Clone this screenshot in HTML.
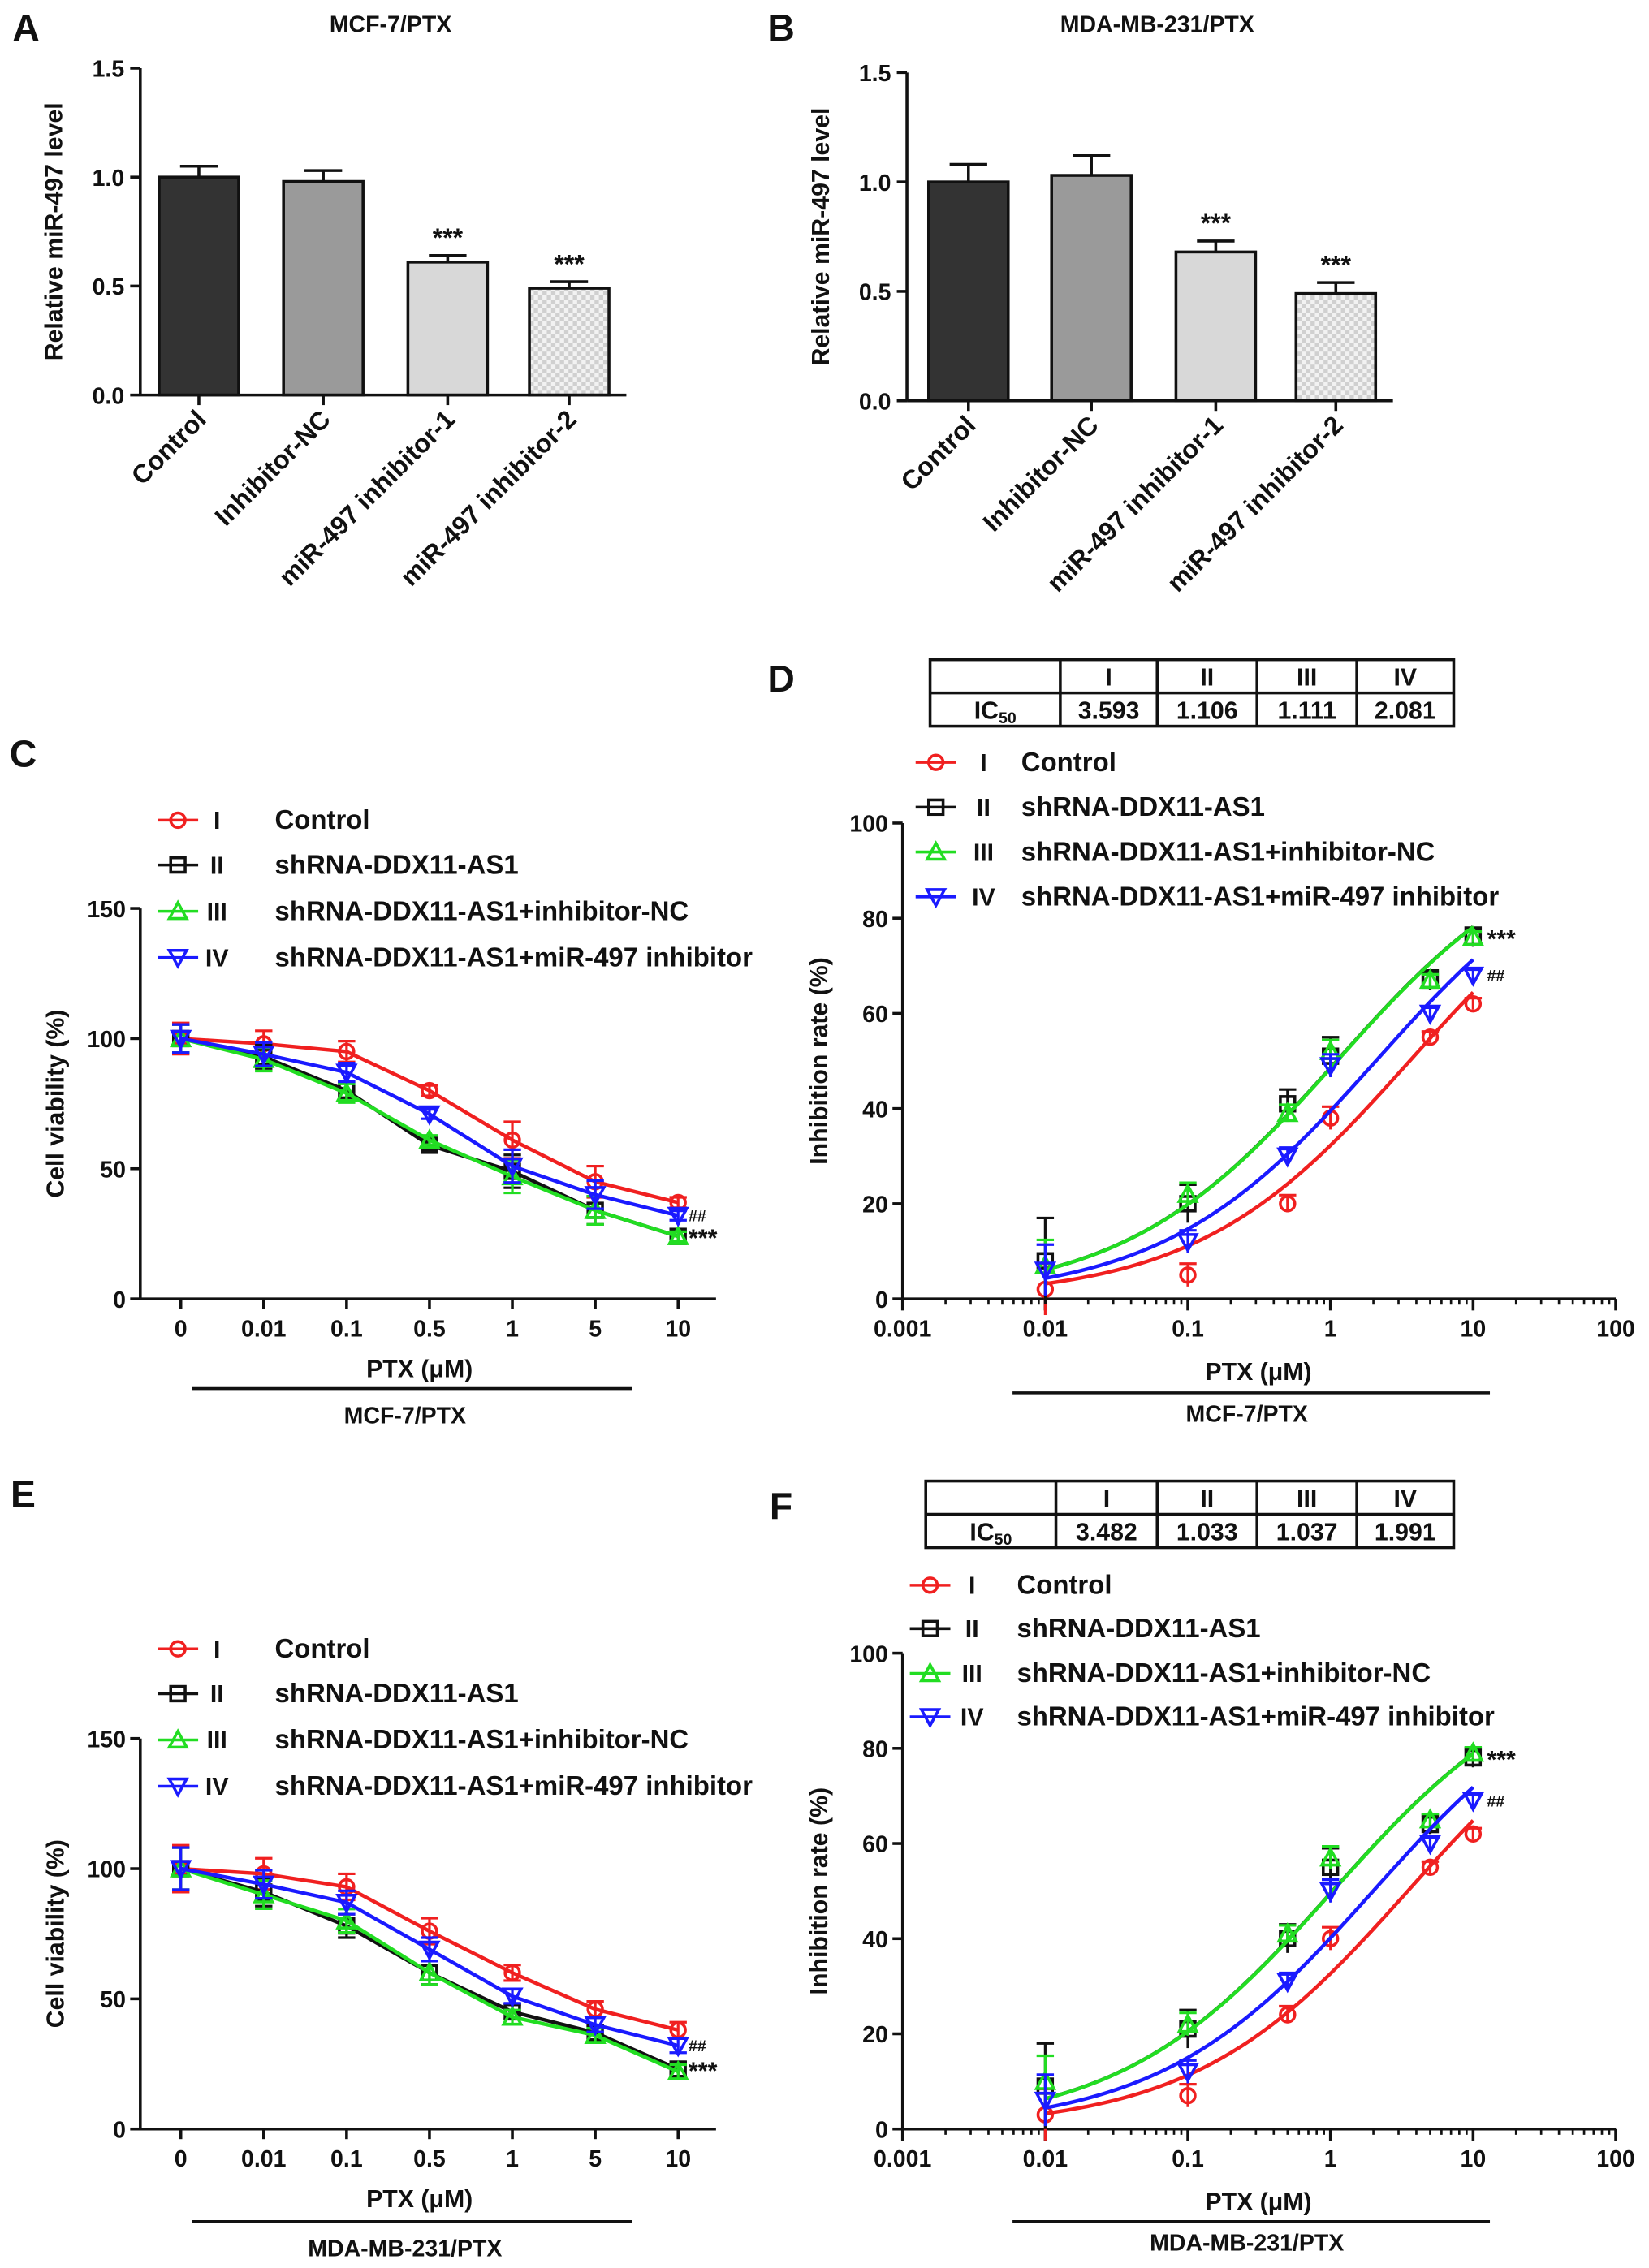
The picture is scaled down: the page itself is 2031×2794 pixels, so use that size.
<!DOCTYPE html>
<html><head><meta charset="utf-8"><style>
html,body{margin:0;padding:0;background:#fff}
svg{display:block}
text{font-family:"Liberation Sans",Arial,sans-serif;font-weight:bold;fill:#111}
</style></head><body>
<svg id="fig" width="2031" height="2794" viewBox="0 0 1140 1568" xmlns="http://www.w3.org/2000/svg">
<defs>
<pattern id="chk" width="6" height="6" patternUnits="userSpaceOnUse"><rect width="6" height="6" fill="#f2f2f2"/><rect width="3" height="3" fill="#d0d0d0"/><rect x="3" y="3" width="3" height="3" fill="#d0d0d0"/></pattern>
</defs>
</svg>
<script>
// ---- data ----
const barCats = ["Control","Inhibitor-NC","miR-497 inhibitor-1","miR-497 inhibitor-2"];
const barA = [1.0,0.98,0.61,0.49];
const barAErr = [0.05,0.05,0.03,0.03];
const barB = [1.0,1.03,0.68,0.49];
const barBErr = [0.08,0.09,0.05,0.05];
const barTicks = [0,0.5,1.0,1.5];
const viaCats = ["0","0.01","0.1","0.5","1","5","10"];
const viaTicks = [0,50,100,150];
const cRed=[100,98,95,80,61,45,37], cBlack=[100,93,80,59,49,34,24], cGreen=[100,92,79,61,47,34,24], cBlue=[100,94,87,71,51,40,32];
const cErr=[6,5,4,2,7,6,2];
const eRed=[100,98,93,76,60,46,38], eBlack=[100,91,78,60,45,37,23], eGreen=[100,90,80,60,43,36,22], eBlue=[100,94,87,69,51,40,32];
const eErr=[9,6,5,5,3,3,3];
const doses=[0.01,0.1,0.5,1,5,10];
const logTicks=[0.001,0.01,0.1,1,10,100];
const inhTicks=[0,20,40,60,80,100];
const dRed=[2,5,20,38,55,62], dBlack=[8,20,41,51,67,76], dGreen=[7,22,39,52,67,76], dBlue=[6,12,30,49,60,68];
const fRed=[3,7,24,40,55,62], fBlack=[9,21,40,55,64,78], fGreen=[10,22,41,57,65,79], fBlue=[6,12,31,50,60,69];
const dErr=[9,4,3,4,2,2];
const icD=[3.593,1.106,1.111,2.081];
const icF=[3.482,1.033,1.037,1.991];
const groups=["I","II","III","IV"];
const legendLabels=["Control","shRNA-DDX11-AS1","shRNA-DDX11-AS1+inhibitor-NC","shRNA-DDX11-AS1+miR-497 inhibitor"];
const colors=["#f02020","#111111","#22dd22","#1a1aff"];
const markers=["circle","square","tri","itri"];

const svg=document.getElementById('fig');
const NS="http://www.w3.org/2000/svg";
function el(t,a,parent){const e=document.createElementNS(NS,t);for(const k in a)e.setAttribute(k,a[k]);(parent||svg).appendChild(e);return e;}
function txt(x,y,s,size,anchor,parent,extra){const t=el('text',Object.assign({x:x,y:y,'font-size':size,'text-anchor':anchor||'middle'},extra||{}),parent);t.textContent=s;return t;}
function line(x1,y1,x2,y2,parent,w,c){return el('line',{x1,y1,x2,y2,stroke:c||'#111','stroke-width':w||2},parent);}
function grp(name){const g=el('g',{});return g;}

function marker(g,type,x,y,c,r){r=r||5;
  if(type==='circle')return el('circle',{cx:x,cy:y,r:r,fill:'none',stroke:c,'stroke-width':2},g);
  if(type==='square')return el('rect',{x:x-r,y:y-r,width:2*r,height:2*r,fill:'none',stroke:c,'stroke-width':2},g);
  if(type==='tri')return el('polygon',{points:`${x},${y-r-1} ${x-r-1},${y+r} ${x+r+1},${y+r}`,fill:'none',stroke:c,'stroke-width':2},g);
  return el('polygon',{points:`${x},${y+r+1} ${x-r-1},${y-r} ${x+r+1},${y-r}`,fill:'none',stroke:c,'stroke-width':2},g);
}

[["A",18,28],["B",540,28],["C",16,530],["D",540,478],["E",16,1042],["F",540,1050]].forEach(p=>{const t=txt(p[1],p[2],p[0],26,'middle');});

function barChart(name,title,titleX,ax,y0,y15,vals,errs,bx,bw){
  const g=grp(name);
  const ys=v=>y0-(y0-y15)*v/1.5;
  const tt=txt(titleX,22,title,16,'middle',g);
  line(ax,y15,ax,y0,g,2);
  barTicks.forEach(t=>{line(ax-7,ys(t),ax,ys(t),g,2);txt(ax-11,ys(t)+6,t.toFixed(1),16,'end',g);});
  const yl=txt(0,0,"Relative miR-497 level",17,'middle',g,{transform:`translate(${ax-54},${(y0+y15)/2}) rotate(-90)`});
  
  const fills=['#333333','#9a9a9a','#d8d8d8','url(#chk)'];
  vals.forEach((v,i)=>{const x=bx[i];
    line(x+bw/2,ys(v+errs[i]),x+bw/2,ys(v),g,2);line(x+bw/2-13,ys(v+errs[i]),x+bw/2+13,ys(v+errs[i]),g,2);
    const r=el('rect',{x:x,y:ys(v),width:bw,height:y0-ys(v),fill:fills[i],stroke:'#111','stroke-width':2},g);
    
    if(i>=2)txt(x+bw/2,ys(v+errs[i])-6,"***",18,'middle',g);
    line(x+bw/2,y0,x+bw/2,y0+7,g,2);
    txt(0,0,barCats[i],18,'end',g,{transform:`translate(${x+bw/2+6},${y0+18}) rotate(-45)`});
  });
  line(ax,y0,bx[3]+bw+12,y0,g,2);
}
barChart('bar-chart-a',"MCF-7/PTX",270,97,273,47,barA,barAErr,[110,196,282,366],55);
barChart('bar-chart-b',"MDA-MB-231/PTX",800,627,277,50,barB,barBErr,[642,727,813,896],55);

function legend(name,ys,mx,rx,tx){
  const g=grp(name);
  ys.forEach((y,i)=>{line(mx-14,y,mx+14,y,g,2,colors[i]);marker(g,markers[i],mx,y,colors[i],5);
    txt(rx,y+6,groups[i],17,'middle',g);txt(tx,y+6,legendLabels[i],18.5,'start',g);});
}

function viaChart(name,y0,y150,series,err,xlab,lineY){
  const g=grp(name);
  const ax=97, xs=i=>125+i*57.3, ys=v=>y0-(y0-y150)*v/150;
  line(ax,y150,ax,y0,g,2);line(ax,y0,495,y0,g,2);
  viaTicks.forEach(t=>{line(ax-7,ys(t),ax,ys(t),g,2);txt(ax-10,ys(t)+6,t,16,'end',g);});
  viaCats.forEach((c,i)=>{line(xs(i),y0,xs(i),y0+7,g,2);txt(xs(i),y0+26,c,16,'middle',g);});
  const yl=txt(0,0,"Cell viability (%)",17,'middle',g,{transform:`translate(44,${ys(75)}) rotate(-90)`});
  
  const xl=txt(290,y0+54,"PTX (μM)",17,'middle',g);
  line(133,lineY,437,lineY,g,2);txt(280,lineY+24,xlab,16,'middle',g);
  series.forEach((s,k)=>{
    const sg=el('g',{},g);
    el('polyline',{points:s.map((v,i)=>xs(i)+','+ys(v)).join(' '),fill:'none',stroke:colors[k],'stroke-width':2.5},sg);
    s.forEach((v,i)=>{const e=err[i]*(k===0?1:0.9);line(xs(i),ys(v-e),xs(i),ys(v+e),sg,1.8,colors[k]);line(xs(i)-6,ys(v+e),xs(i)+6,ys(v+e),sg,1.8,colors[k]);line(xs(i)-6,ys(v-e),xs(i)+6,ys(v-e),sg,1.8,colors[k]);marker(sg,markers[k],xs(i),ys(v),colors[k],5);});
  });
  txt(476,ys(series[3][6])+4,"##",11,'start',g);
  txt(476,ys(series[1][6])+7,"***",17,'start',g);
}
legend('legend-c',[567,598,630,662],123,150,190);
viaChart('viability-chart-c',898,628,[cRed,cBlack,cGreen,cBlue],cErr,"MCF-7/PTX",960);
legend('legend-e',[1140,1171,1203,1235],123,150,190);
viaChart('viability-chart-e',1472,1202,[eRed,eBlack,eGreen,eBlue],eErr,"MDA-MB-231/PTX",1536);

function table(name,x0,x1,y0,y1,cols,ic){
  const g=grp(name);const ym=(y0+y1)/2;
  el('rect',{x:x0,y:y0,width:x1-x0,height:y1-y0,fill:'none',stroke:'#111','stroke-width':2},g);
  line(x0,ym,x1,ym,g,2);cols.forEach(c=>line(c,y0,c,y1,g,2));
  const edges=[x0].concat(cols,[x1]);
  const lab=txt((edges[0]+edges[1])/2,y1-5,"IC",17,'middle',g);const ts=el('tspan',{'font-size':11,dy:3},lab);ts.textContent="50";
  groups.forEach((gname,i)=>{const cx=(edges[i+1]+edges[i+2])/2;txt(cx,ym-5,gname,17,'middle',g);txt(cx,y1-5,ic[i].toFixed(3),17,'middle',g);});
}
table('ic50-table-d',643,1005,456,502,[733,800,869,938],icD);
table('ic50-table-f',640,1005,1024,1070,[730,800,869,938],icF);

function inhChart(name,y0,y100,series,ic,xlab,lineY){
  const g=grp(name);
  const ax=624, xs=v=>624+(Math.log10(v)+3)*98.6, ys=v=>y0-(y0-y100)*v/100;
  line(ax,y100,ax,y0,g,2);line(ax,y0,1117,y0,g,2);
  inhTicks.forEach(t=>{line(ax-7,ys(t),ax,ys(t),g,2);txt(ax-10,ys(t)+6,t,16,'end',g);});
  logTicks.forEach(t=>{line(xs(t),y0,xs(t),y0+8,g,2);txt(xs(t),y0+26,String(t),16,'middle',g);
    for(let m=2;m<10&&t<100;m++)line(xs(t*m),y0,xs(t*m),y0+4,g,1.5);});
  const yl=txt(0,0,"Inhibition rate (%)",17,'middle',g,{transform:`translate(572,${ys(50)}) rotate(-90)`});
  
  const xl=txt(870,y0+56,"PTX (μM)",17,'middle',g);
  line(700,lineY,1030,lineY,g,2);txt(862,lineY+20,xlab,16,'middle',g);
  series.forEach((s,k)=>{
    const sg=el('g',{},g);
    const pts=[];for(let j=0;j<=60;j++){const x=Math.pow(10,-2+3*j/60);pts.push(xs(x)+','+ys(100/(1+Math.pow(ic[k]/x,0.58))));}
    el('polyline',{points:pts.join(' '),fill:'none',stroke:colors[k],'stroke-width':2.5},sg);
    s.forEach((v,i)=>{const e=dErr[i]*(k===1?1:0.6);line(xs(doses[i]),ys(v-e),xs(doses[i]),ys(v+e),sg,1.8,colors[k]);line(xs(doses[i])-6,ys(v+e),xs(doses[i])+6,ys(v+e),sg,1.8,colors[k]);marker(sg,markers[k],xs(doses[i]),ys(v),colors[k],5);});
  });
  txt(1028,ys(series[1][5])+7,"***",17,'start',g);
  txt(1028,ys(series[3][5])+4,"##",11,'start',g);
}
legend('legend-d',[527,558,589,620],647,680,706);
inhChart('inhibition-chart-d',898,569,[dRed,dBlack,dGreen,dBlue],icD,"MCF-7/PTX",963);
legend('legend-f',[1096,1126,1157,1187],643,672,703);
inhChart('inhibition-chart-f',1472,1143,[fRed,fBlack,fGreen,fBlue],icF,"MDA-MB-231/PTX",1536);
</script>
</body></html>
